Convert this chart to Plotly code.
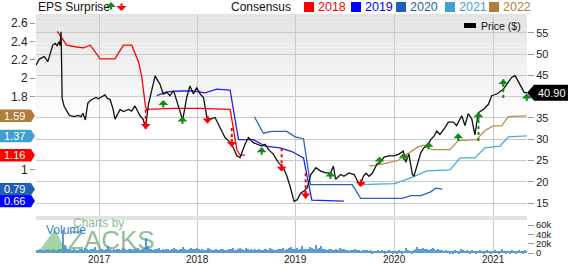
import plotly.graph_objects as go
import pandas as pd

# ---------------- data ----------------
price_dates = [
    "2016-05-12", "2016-05-24", "2016-06-12", "2016-06-25", "2016-07-07", "2016-07-13",
    "2016-07-23", "2016-07-29", "2016-08-05", "2016-08-09", "2016-08-13", "2016-08-17",
    "2016-08-25", "2016-09-13", "2016-10-01", "2016-10-15", "2016-10-26", "2016-11-02",
    "2016-11-11", "2016-11-20", "2016-12-02", "2016-12-21", "2016-12-29", "2017-01-11",
    "2017-01-23", "2017-01-31", "2017-02-11", "2017-02-22", "2017-03-01", "2017-03-20",
    "2017-04-01", "2017-04-20", "2017-05-02", "2017-05-14", "2017-05-22", "2017-06-02",
    "2017-06-14", "2017-06-22", "2017-07-03", "2017-07-17", "2017-07-28", "2017-08-06",
    "2017-08-15", "2017-08-27", "2017-09-09", "2017-09-21", "2017-10-04", "2017-10-16",
    "2017-10-28", "2017-11-07", "2017-11-22", "2017-12-04", "2017-12-17", "2017-12-29",
    "2018-01-11", "2018-01-23", "2018-02-05", "2018-02-17", "2018-03-07", "2018-03-20",
    "2018-04-01", "2018-04-13", "2018-04-26", "2018-05-08", "2018-05-27", "2018-06-08",
    "2018-06-26", "2018-07-09", "2018-07-27", "2018-08-15", "2018-08-27", "2018-09-09",
    "2018-09-21", "2018-10-09", "2018-10-28", "2018-11-15", "2018-11-28", "2018-12-10",
    "2018-12-25", "2019-01-06", "2019-01-19", "2019-01-31", "2019-02-12", "2019-02-25",
    "2019-03-16", "2019-04-03", "2019-04-22", "2019-05-10", "2019-05-20", "2019-05-28",
    "2019-06-16", "2019-06-28", "2019-07-17", "2019-08-05", "2019-08-17", "2019-08-27",
    "2019-09-08", "2019-09-18", "2019-09-29", "2019-10-11", "2019-10-30", "2019-11-09",
    "2019-11-24", "2019-12-12", "2019-12-31", "2020-01-18", "2020-02-03", "2020-02-12",
    "2020-02-24", "2020-03-08", "2020-03-14", "2020-03-26", "2020-04-08", "2020-04-20",
    "2020-05-02", "2020-05-15", "2020-05-27", "2020-06-06", "2020-06-18", "2020-07-07",
    "2020-07-19", "2020-08-07", "2020-08-19", "2020-09-07", "2020-09-19", "2020-10-01",
    "2020-10-14", "2020-10-26", "2020-11-07", "2020-11-26", "2020-12-15", "2020-12-27",
    "2021-01-15", "2021-02-08", "2021-02-27", "2021-03-11", "2021-03-24", "2021-04-05",
    "2021-04-17", "2021-04-26", "2021-05-07",
]
price_vals = [
    47.4, 48.8, 49.4, 48.2, 50.8, 52.1,
    52.5, 51.9, 52.9, 52.0, 55.2, 39.6,
    37.6, 35.6, 35.3, 35.6, 35.3, 36.1,
    34.5, 38.4, 39.2, 39.8, 39.5, 39.9,
    40.4, 39.6, 39.3, 37.0, 34.7, 37.0,
    36.5, 37.0, 36.6, 37.8, 36.8, 35.5,
    34.6, 32.5, 38.2, 41.8, 44.9, 43.8,
    42.9, 40.6, 41.0, 40.2, 41.4, 39.0,
    36.6, 34.5, 39.8, 42.5, 40.6, 42.1,
    40.6, 39.8, 35.1, 34.7, 35.1, 33.5,
    31.9, 30.4, 29.6, 28.8, 26.1, 25.7,
    28.8, 30.4, 29.2, 28.8, 28.4, 28.8,
    27.6, 26.5, 24.5, 23.4, 21.4, 19.0,
    15.4, 15.8, 17.4, 17.8, 18.6, 21.7,
    23.3, 22.5, 22.1, 22.1, 23.7, 20.6,
    21.7, 21.3, 22.1, 21.7, 20.1, 19.0,
    21.3, 22.0, 21.3, 22.0, 24.3, 24.5,
    25.8, 26.1, 26.1, 26.5, 27.2, 24.6,
    26.5, 21.7, 21.4, 24.1, 26.8, 28.0,
    28.4, 29.9, 30.7, 31.9, 31.1, 32.7,
    34.0, 34.0, 33.2, 35.5, 33.2, 36.0,
    34.8, 31.0, 36.2, 37.0, 38.2, 40.2,
    40.6, 41.7, 43.3, 44.5, 44.9, 43.3,
    42.1, 41.0, 40.9,
]

cons2018_dates = ["2016-07-30", "2016-09-03", "2016-10-10", "2016-11-04", "2016-11-29",
                  "2017-01-05", "2017-03-01", "2017-04-01", "2017-05-02", "2017-05-27",
                  "2017-06-08", "2017-06-22", "2017-06-27", "2017-10-04", "2018-01-11",
                  "2018-05-02", "2018-05-27", "2018-06-08", "2018-06-26"]
cons2018 = [2.51, 2.36, 2.34, 2.33, 2.36, 2.21, 2.21, 2.36, 2.36, 2.18,
            2.02, 1.69, 1.66, 1.67, 1.67, 1.66, 1.22, 1.16, 1.16]

cons2019_dates = ["2017-08-03", "2017-09-09", "2017-10-28", "2017-12-17", "2018-01-29",
                  "2018-03-13", "2018-05-02", "2018-06-02", "2018-07-27", "2018-09-09",
                  "2018-11-03", "2018-12-17", "2019-01-29", "2019-03-01", "2019-06-28"]
cons2019 = [1.81, 1.85, 1.86, 1.86, 1.84, 1.88, 1.87, 1.33, 1.33, 1.26,
            1.24, 1.20, 1.13, 0.67, 0.66]

cons2020_dates = ["2018-07-31", "2018-09-02", "2018-10-03", "2018-11-28", "2018-12-29",
                  "2019-01-29", "2019-02-24", "2019-07-29", "2019-08-29", "2019-10-30",
                  "2020-01-31", "2020-03-02", "2020-04-08", "2020-05-15", "2020-06-02",
                  "2020-06-27"]
cons2020 = [1.58, 1.40, 1.42, 1.42, 1.36, 1.34, 0.84, 0.84, 0.69, 0.69,
            0.69, 0.72, 0.72, 0.76, 0.80, 0.79]

cons2021_dates = ["2019-08-27", "2020-01-03", "2020-02-28", "2020-04-30", "2020-07-25",
                  "2020-09-01", "2020-10-26", "2020-12-02", "2021-01-27", "2021-02-27",
                  "2021-05-06"]
cons2021 = [0.84, 0.85, 0.91, 0.99, 1.00, 1.13, 1.13, 1.24, 1.26, 1.36, 1.37]

cons2022_dates = ["2019-09-29", "2019-11-12", "2020-01-12", "2020-02-28", "2020-03-29",
                  "2020-04-18", "2020-05-19", "2020-07-25", "2020-08-25", "2020-11-01",
                  "2020-12-02", "2021-01-02", "2021-02-02", "2021-02-27", "2021-05-06"]
cons2022 = [1.04, 1.06, 1.10, 1.19, 1.25, 1.27, 1.22, 1.22, 1.32, 1.33,
            1.43, 1.48, 1.48, 1.58, 1.59]

consensus_years = ["2018", "2019", "2020", "2021", "2022"]
consensus_last = [1.16, 0.66, 0.79, 1.37, 1.59]

surprise_dates = ["2017-06-23", "2017-08-27", "2017-11-06", "2018-02-07", "2018-05-08",
                  "2018-08-27", "2018-11-09", "2019-02-06", "2019-05-09", "2019-08-30",
                  "2019-11-07", "2020-02-05", "2020-05-07", "2020-08-25", "2020-11-08",
                  "2021-02-08", "2021-05-06"]
surprise_tip = [32.4, 39.2, 35.3, 33.7, 28.2, 28.1, 22.4, 16.1, 22.4, 18.8,
                25.9, 26.8, 29.4, 31.4, 36.3, 44.1, 40.7]
surprise_dir = ["down", "up", "up", "down", "down", "up", "down", "down", "up", "down",
                "up", "up", "up", "up", "up", "up", "up"]
surprise_stem = [36.9, None, None, None, 32.6, None, 27.9, 22.0, None, None,
                 None, None, None, None, 29.6, 39.7, None]

last_price = 40.90

volume_start = "2016-05-13"
volume_k = [
    7, 6, 8, 7, 6, 7, 9, 7, 6, 8,
    7, 6, 8, 9, 50, 18, 12, 9, 8, 7,
    8, 7, 6, 9, 8, 7, 10, 8, 7, 9,
    8, 12, 7, 6, 8, 9, 7, 8, 16, 9,
    7, 8, 6, 9, 8, 7, 10, 8, 7, 9,
    8, 7, 9, 8, 10, 7, 9, 11, 32, 14,
    9, 8, 7, 9, 8, 10, 7, 8, 6, 9,
    8, 7, 9, 10, 8, 7, 9, 8, 12, 9,
    7, 8, 10, 9, 8, 11, 9, 7, 8, 6,
    7, 11, 8, 6, 7, 8, 6, 7, 9, 8,
    7, 6, 9, 8, 10, 7, 6, 9, 11, 8,
    7, 10, 9, 6, 8, 7, 9, 6, 8, 7,
    6, 9, 8, 7, 11, 8, 7, 6, 8, 9,
    8, 10, 7, 9, 11, 13, 9, 8, 10, 7,
    9, 15, 8, 9, 8, 12, 10, 9, 17, 8,
    10, 15, 9, 8, 7, 9, 8, 6, 7, 8,
    7, 10, 9, 8, 6, 7, 5, 6, 7, 8,
    6, 7, 5, 6, 7, 6, 5, 6, 4, 5,
    5, 6, 5, 7, 5, 4, 5, 6, 5, 4,
    5, 4, 6, 5, 4, 5, 11, 6, 5, 4,
    6, 8, 13, 9, 8, 10, 9, 8, 7, 8,
    11, 8, 7, 9, 7, 6, 5, 6, 5, 4,
    5, 4, 6, 5, 4, 9, 6, 5, 6, 5,
    4, 6, 5, 4, 5, 6, 5, 4, 5, 6,
    5, 4, 5, 6, 5, 4, 5, 9, 5, 4,
    5, 4, 6, 5, 4, 5, 6, 5, 4, 7,
    5,
]
volume_dates = pd.date_range(volume_start, periods=len(volume_k), freq="7D")

year_ticks = ["2017-01-01", "2018-01-01", "2019-01-01", "2020-01-01", "2021-01-01"]
year_labels = ["2017", "2018", "2019", "2020", "2021"]
eps_ticks = [1.0, 1.8, 2.0, 2.2, 2.4, 2.6]
eps_ticklabels = ["1", "1.8", "2", "2.2", "2.4", "2.6"]
price_ticks = [15, 20, 25, 30, 35, 40, 45, 50, 55]
price_ticklabels = ["15", "20", "25", "30", "35", "", "45", "50", "55"]
vol_ticks = [0, 20, 40, 60]
vol_ticklabels = ["0", "20k", "40k", "60k"]

# ---------------- styling ----------------
W, H = 568, 264
L, R, T, B = 36, 41, 14, 10
PW, PH = W - L - R, H - T - B


def px(xp):
    return (xp - L) / PW


def py(yp):
    return (H - B - yp) / PH


FONT = "Liberation Sans, Arial, sans-serif"
line_col = {"2018": "#ff0000", "2019": "#2020ff", "2020": "#2862c0",
            "2021": "#48aadd", "2022": "#bb8c4c"}
badge_col = {"2018": "#ff0000", "2019": "#0000ff", "2020": "#1f5fb8",
             "2021": "#3fa0d2", "2022": "#b07e38"}
GREEN = "#138a13"
RED = "#ff0000"
ARROW = dict(showarrow=True, arrowhead=1, arrowsize=0.82, arrowwidth=2, standoff=0, text="")

fig = go.Figure()

cons = {"2018": (cons2018_dates, cons2018), "2019": (cons2019_dates, cons2019),
        "2020": (cons2020_dates, cons2020), "2021": (cons2021_dates, cons2021),
        "2022": (cons2022_dates, cons2022)}
for yr in consensus_years:
    d, v = cons[yr]
    fig.add_trace(go.Scatter(x=d, y=v, mode="lines", xaxis="x", yaxis="y",
                             line=dict(color=line_col[yr], width=1.3), showlegend=False))

fig.add_trace(go.Scatter(x=price_dates, y=price_vals, mode="lines", xaxis="x", yaxis="y2",
                         line=dict(color="#111111", width=1.3), showlegend=False))

annotations = []
for d, tip, dr, stem in zip(surprise_dates, surprise_tip, surprise_dir, surprise_stem):
    col = GREEN if dr == "up" else RED
    if stem is not None:
        fig.add_trace(go.Scatter(x=[d, d], y=[stem, tip], mode="lines", xaxis="x", yaxis="y2",
                                 line=dict(color=col, width=2, dash="dot"), showlegend=False))
    annotations.append(dict(x=d, y=tip, xref="x", yref="y2", ax=0, ay=(9 if dr == "up" else -9),
                            arrowcolor=col, **ARROW))

fig.add_trace(go.Bar(x=volume_dates, y=volume_k, xaxis="x2", yaxis="y3",
                     marker=dict(color="#5b9bd8", line=dict(width=0)),
                     width=4.2 * 24 * 3600 * 1000, showlegend=False))

shapes = []
# background gradient on upper part of main panel
n_band = 30
top_px, bot_px = 14, 125
for k in range(n_band):
    y0p = top_px + (bot_px - top_px) * k / n_band
    y1p = top_px + (bot_px - top_px) * (k + 1) / n_band
    c = int(228 + (255 - 228) * (k / (n_band - 1)))
    shapes.append(dict(type="rect", xref="paper", yref="paper", x0=0, x1=1,
                       y0=py(y1p), y1=py(y0p), fillcolor=f"rgb({c},{c},{c})",
                       line=dict(width=0), layer="below"))
# separator band between panels
shapes.append(dict(type="rect", xref="paper", yref="paper", x0=0, x1=1,
                   y0=py(220), y1=py(216), fillcolor="#e2e2e2", line=dict(width=0), layer="below"))

# left consensus badges
for yr, val in zip(consensus_years, consensus_last):
    shapes.append(dict(type="path", xref="paper", xsizemode="pixel", xanchor=0,
                       yref="y", ysizemode="pixel", yanchor=val,
                       path="M-36,-6.2 L-5,-6.2 L-1,0 L-5,6.2 L-36,6.2 Z",
                       fillcolor=badge_col[yr], line=dict(width=0), layer="above"))
    annotations.append(dict(x=0, xref="paper", xanchor="left", xshift=-34, y=val, yref="y",
                            yanchor="middle", text=f"{val:.2f}", showarrow=False,
                            font=dict(family=FONT, size=11, color="white")))

# right price badge
shapes.append(dict(type="path", xref="paper", xsizemode="pixel", xanchor=1,
                   yref="y2", ysizemode="pixel", yanchor=last_price,
                   path="M0,0 L7,-8 L41,-8 L41,8 L7,8 Z",
                   fillcolor="#000000", line=dict(width=0), layer="above"))
annotations.append(dict(x=1, xref="paper", xanchor="left", xshift=9, y=last_price, yref="y2",
                        yanchor="middle", text=f"{last_price:.2f}", showarrow=False,
                        font=dict(family=FONT, size=11, color="white")))

# top header: EPS Surprise + arrows
annotations.append(dict(x=0, xref="paper", xanchor="left", y=py(7.5), yref="paper",
                        yanchor="middle", text="EPS Surprise", showarrow=False,
                        font=dict(family=FONT, size=12, color="#111")))
annotations.append(dict(x=px(111), y=py(2), xref="paper", yref="paper", ax=0, ay=9,
                        arrowcolor=GREEN, **ARROW))
annotations.append(dict(x=px(121.5), y=py(11), xref="paper", yref="paper", ax=0, ay=-9,
                        arrowcolor=RED, **ARROW))
# Consensus legend
annotations.append(dict(x=px(229), xref="paper", xanchor="left", y=py(7.5), yref="paper",
                        yanchor="middle", text="Consensus", showarrow=False,
                        font=dict(family=FONT, size=12, color="#111")))
leg_sq_x = [304, 351, 396, 445, 489]
for yr, sx in zip(consensus_years, leg_sq_x):
    shapes.append(dict(type="rect", xref="paper", yref="paper", x0=px(sx), x1=px(sx + 10),
                       y0=py(12), y1=py(2), fillcolor=badge_col[yr], line=dict(width=0)))
    annotations.append(dict(x=px(sx + 12), xref="paper", xanchor="left", y=py(7.5), yref="paper",
                            yanchor="middle", text=yr, showarrow=False,
                            font=dict(family=FONT, size=12.5, color=badge_col[yr])))
# Price legend
shapes.append(dict(type="rect", xref="paper", yref="paper", x0=px(464), x1=px(476),
                   y0=py(28), y1=py(23), fillcolor="#000", line=dict(width=0)))
annotations.append(dict(x=px(479), xref="paper", xanchor="left", y=py(25.5), yref="paper",
                        yanchor="middle", text="Price ($)", showarrow=False,
                        font=dict(family=FONT, size=10.5, color="#111")))

# x (year) labels under the volume panel
for tv, tl in zip(year_ticks, year_labels):
    annotations.append(dict(x=tv, xref="x2", xanchor="center", y=py(259.5), yref="paper",
                            yanchor="middle", text=tl, showarrow=False,
                            font=dict(family=FONT, size=10, color="#222")))

# Volume label and watermark
shapes.append(dict(type="path", xref="paper", yref="paper",
                   path=f"M{px(39)},{py(251)} L{px(55)},{py(229)} L{px(66)},{py(251)} Z",
                   fillcolor="rgba(90,175,95,0.55)", line=dict(width=0), layer="above"))
annotations.append(dict(x=px(66), xref="paper", xanchor="left", y=py(240), yref="paper",
                        yanchor="middle", text="ZACKS", showarrow=False,
                        font=dict(family=FONT, size=26, color="rgba(70,145,85,0.6)")))
annotations.append(dict(x=px(71), xref="paper", xanchor="left", y=py(222.5), yref="paper",
                        yanchor="middle", text="Charts by", showarrow=False,
                        font=dict(family=FONT, size=12, color="rgba(110,175,120,0.85)")))
annotations.append(dict(x=px(44), xref="paper", xanchor="left", y=py(229.5), yref="paper",
                        yanchor="middle", text="Volume", showarrow=False,
                        font=dict(family=FONT, size=12, color="#3b7fd4")))

xrange = ["2016-05-12", "2021-05-07"]
fig.update_layout(
    width=W, height=H, margin=dict(l=L, r=R, t=T, b=B, autoexpand=False),
    paper_bgcolor="white", plot_bgcolor="rgba(0,0,0,0)",
    showlegend=False, bargap=0,
    xaxis=dict(domain=[0, 1], anchor="y", range=xrange, tickvals=year_ticks,
               showticklabels=False, showgrid=True, gridcolor="#cacaca", gridwidth=1,
               zeroline=False, showline=False, ticks=""),
    xaxis2=dict(domain=[0, 1], anchor="y3", range=xrange, tickvals=year_ticks,
                showticklabels=False, showgrid=True, gridcolor="#cacaca", gridwidth=1,
                zeroline=False, showline=False, ticks=""),
    yaxis=dict(domain=[py(216), 1], anchor="x", range=[0.497, 2.700], tickvals=eps_ticks,
               ticktext=eps_ticklabels, showgrid=False, zeroline=False, ticks="outside",
               ticklen=5, tickcolor="#999", tickfont=dict(family=FONT, size=12, color="#222")),
    yaxis2=dict(domain=[py(216), 1], anchor="x", overlaying="y", side="right",
                range=[11.97, 59.39], tickvals=price_ticks, ticktext=price_ticklabels,
                showgrid=True, gridcolor="#cacaca", gridwidth=1, zeroline=False,
                ticks="outside", ticklen=6, tickcolor="#999",
                tickfont=dict(family=FONT, size=11, color="#222")),
    yaxis3=dict(domain=[0, py(220)], anchor="x2", side="right", range=[-2.1, 70.7],
                tickvals=vol_ticks, ticktext=vol_ticklabels, showgrid=False, zeroline=False,
                ticks="outside", ticklen=6, tickcolor="#999",
                tickfont=dict(family=FONT, size=9.5, color="#222")),
    shapes=shapes, annotations=annotations,
)

fig.write_html("out.html")
